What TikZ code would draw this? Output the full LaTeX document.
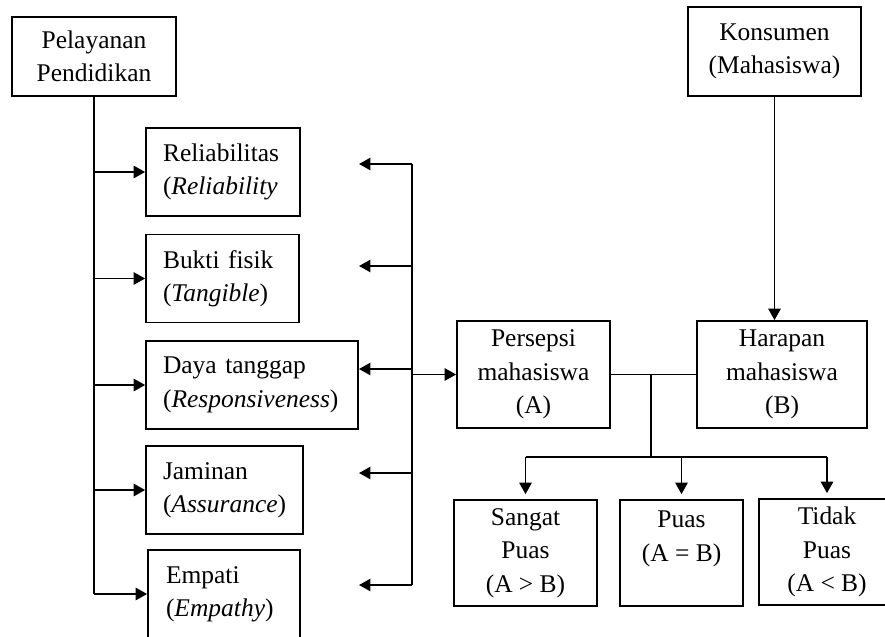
\documentclass[tikz,border=0pt]{standalone}
\usepackage{fontspec}
\setmainfont{Liberation Serif}
\usetikzlibrary{arrows.meta, positioning}

\begin{document}
\begin{tikzpicture}[
  x=0.02cm, y=-0.02cm, line width=1pt,
  every node/.style={font=\fontsize{14.5pt}{19pt}\selectfont},
  box/.style={draw, line width=1pt, inner sep=0pt, align=center},
  lbox/.style={box, align=left, inner xsep=0.34cm, minimum height=1.76cm},
  >={Triangle[length=6.5pt, width=7pt]}
]
\useasboundingbox (0,0) rectangle (885,636);
\node[box, minimum width=3.28cm, minimum height=1.58cm] (pel) at (94,56.5) {Pelayanan\\Pendidikan};
\node[lbox, text width=2.4cm] (rel) at (223,172) {Reliabilitas\\(\textit{Reliability}};
\node[lbox, text width=2.38cm] (buk) at (222.5,278.5) {Bukti fisik\\(\textit{Tangible})};
\node[lbox, text width=3.56cm] (daya) at (252,385) {Daya tanggap\\(\textit{Responsiveness})};
\node[lbox, text width=2.46cm] (jam) at (224.5,490) {Jaminan\\(\textit{Assurance})};
\node[lbox, text width=2.32cm, inner xsep=0.36cm] (emp) at (224,594) {Empati\\(\textit{Empathy})};
\node[box, minimum width=3.46cm, minimum height=1.78cm] (kon) at (774.5,51.5) {Konsumen\\(Mahasiswa)};
\node[box, minimum width=3.06cm, minimum height=2.14cm] (per) at (533.5,374.5) {Persepsi\\mahasiswa\\(A)};
\node[box, minimum width=3.4cm, minimum height=2.14cm] (har) at (782,374.5) {Harapan\\mahasiswa\\(B)};
\node[box, minimum width=2.86cm, minimum height=2.12cm] (sp) at (525.5,553) {Sangat\\Puas\\(A > B)};
\node[box, minimum width=2.46cm, minimum height=2.12cm] (puas) at (681.5,553) {Puas\\(A = B)\\\mbox{}};
\node[box, minimum width=2.72cm, minimum height=2.12cm] (tp) at (827,552) {Tidak\\Puas\\(A < B)};

\draw (pel.south) -- (pel.south |- emp.west);
\foreach \n in {rel,buk,daya,jam,emp}
  \draw[->] (pel.south |- \n.west) -- (\n.west);

\foreach \y [count=\i] in {164,266,369,473,585} {
  \coordinate (b\i) at (412,\y);
  \coordinate (t\i) at (359,\y);
}
\draw (b1) -- (b5);
\foreach \i in {1,...,5}
  \draw[->] (b\i) -- (t\i);
\draw[->] (b1 |- per.west) -- (per.west);

\draw[->] (kon.south) -- (kon.south |- har.north);
\draw (per.east) -- (har.west);
\coordinate (j) at (651,374.5);
\coordinate (split) at (651,457);
\draw (j) -- (split);
\draw (sp.north |- split) -- (tp.north |- split);
\foreach \n in {sp,puas,tp}
  \draw[->] (\n.north |- split) -- ([yshift=0.1cm]\n.north);
\end{tikzpicture}
\end{document}
